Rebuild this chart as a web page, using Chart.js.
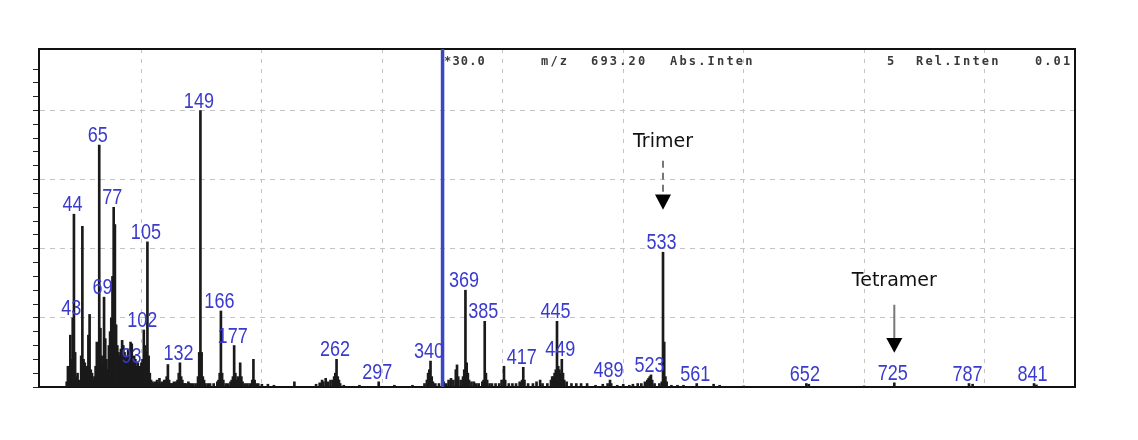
<!DOCTYPE html>
<html><head><meta charset="utf-8">
<script src="https://cdn.jsdelivr.net/npm/chart.js@4.4.1/dist/chart.umd.min.js"></script>
<style>html,body{margin:0;padding:0;background:#fff;}#wrap{width:1138px;height:440px;}</style>
</head><body><div id="wrap"><canvas id="c" width="1138" height="440"></canvas></div>
<script>
// ---- data ----
const mzValues = [38,39,40,41,42,43,44,45,46,47,48,50,51,52,53,54,55,56,57,58,59,60,61,62,63,64,65,66,67,68,69,70,71,72,73,74,75,76,77,78,79,80,81,82,83,84,85,86,87,88,89,90,91,92,93,94,95,96,97,98,99,100,101,102,103,104,105,106,107,108,109,110,111,112,113,114,115,116,117,118,119,120,121,122,123,124,125,126,127,128,129,130,131,132,133,134,135,136,137,139,140,141,143,145,147,148,149,150,151,152,153,155,157,160,163,164,165,166,167,168,170,172,174,175,176,177,178,179,180,181,182,183,184,186,188,190,192,193,194,195,197,200,205,210,227,245,248,250,251,253,255,257,259,260,261,262,263,264,265,268,281,297,310,325,335,337,338,339,340,341,342,344,347,351,353,355,357,359,361,362,363,365,367,368,369,370,371,372,374,376,378,380,383,384,385,386,387,389,391,394,397,399,401,402,405,408,411,414,416,417,418,421,425,428,431,433,437,440,441,442,443,444,445,446,447,448,449,450,451,453,457,461,465,470,477,483,487,489,490,495,500,505,508,512,515,518,520,521,522,523,524,526,530,532,533,534,535,536,540,545,550,561,575,580,600,652,654,700,725,787,790,841,843];
const intensities = [1.5,6,3,15,8,20,50,10,3,4,2,9,46.5,8,7,3,6,15,21,5,4,2,3,6,13,8,70,17,9,6,26,14,8,5,12,16,20,32,52,47,18,12,10,9,11,13.5,12,10,9,8,11,9,13,12.5,6,9,8,6,7,5,6,7,8,16.5,12,10,42,9,4,2,1.5,1,1.5,1,2,1,2.5,1,1.5,1,2,2,3,6.5,2,1,1,1,1.5,1,1.5,2,4,7,3,2,1,1,1,1.5,1,1,1,1,3,10,80,10,3,2,1,1,1,1,1.5,2,4,22,4,2,1,1,1.5,2,3,12,4,2,3,2,7,3,1.5,1,1,1,2,8,2,1,1,0.8,0.8,0.5,1.5,0.8,1.2,2,1.5,2.5,1.5,2,2,3,4,8,3,2,1,0.5,0.5,1.5,0.5,0.5,1,2,4,5,7.5,3,1.5,1,1,1.5,1,2,2.5,2,5,6.4,3,2,3,5,28,7,4,2,1.5,1.5,1,1,1.5,2,19,4,2,1,1,1,1,2,6,2,1,1,1,1.5,2,5.7,2,1,1,1.5,2,1,1,2,3,3,4,5,19,6,5,4,8,4,2,1.5,1,1,1,1,0.5,0.8,1,2,1,0.5,0.8,0.5,0.8,1,1,1.5,2,2.5,3,3.5,2,1,1,1.5,39,13,3,1.5,0.5,0.5,0.5,1,0.8,0.5,0.3,1,0.8,0.3,1.2,1,0.8,1,0.6];
const labeledPeaks = [43,44,65,69,77,93,102,105,132,149,166,177,262,297,340,369,385,417,445,449,489,523,533,561,652,725,787,841];
const cursorMz = 350;
const xRange = [15, 875];
const yRange = [0, 97.8];
const headerItems = [['*30.0',405,8.4],['m/z',502,9.4],['693.20',552,9.4],['Abs.Inten',631,9.4],['5',848,9.4],['Rel.Inten',877,9.4],['0.01',996,9.3]];
const arrowNotes = [
  {text:'Trimer', mz:533, textY:71, shaftTop:65.5, headTop:55.7, tip:51.3, dashed:true},
  {text:'Tetramer', mz:725, textY:30.7, shaftTop:23.8, headTop:14.2, tip:9.9, dashed:false}
];

const spectrum = mzValues.map((m,i)=>({x:m, y:intensities[i]}));
const valueAt = m => intensities[mzValues.indexOf(m)];

const peakLabelPlugin = {
  id:'peakLabels',
  afterDatasetsDraw(chart){
    const ctx = chart.ctx, xs = chart.scales.x, ys = chart.scales.y;
    ctx.save();
    ctx.font = '22px "Liberation Sans", Arial, sans-serif';
    ctx.fillStyle = '#3a3acd';
    ctx.textAlign = 'center';
    ctx.textBaseline = 'alphabetic';
    labeledPeaks.forEach(m=>{
      const px = xs.getPixelForValue(m) - 1.5;
      const py = ys.getPixelForValue(valueAt(m)) - 3;
      ctx.save();
      ctx.translate(px, py);
      ctx.scale(0.82, 1);
      ctx.fillText(String(m), 0, 0);
      ctx.restore();
    });
    arrowNotes.forEach(n=>{
      const px = xs.getPixelForValue(n.mz);
      ctx.font = '19px "DejaVu Sans", sans-serif';
      ctx.fillStyle = '#111';
      ctx.textBaseline = 'middle';
      ctx.fillText(n.text, px, ys.getPixelForValue(n.textY));
      ctx.strokeStyle = '#777';
      ctx.lineWidth = 2;
      ctx.setLineDash(n.dashed ? [7,5] : []);
      ctx.beginPath();
      ctx.moveTo(px, ys.getPixelForValue(n.shaftTop));
      ctx.lineTo(px, ys.getPixelForValue(n.headTop));
      ctx.stroke();
      ctx.setLineDash([]);
      const ht = ys.getPixelForValue(n.headTop), tp = ys.getPixelForValue(n.tip);
      ctx.fillStyle = '#000';
      ctx.beginPath();
      ctx.moveTo(px-8, ht); ctx.lineTo(px+8, ht); ctx.lineTo(px, tp); ctx.closePath();
      ctx.fill();
    });
    ctx.restore();
  }
};

const headerPlugin = {
  id:'header',
  afterDraw(chart){
    const ctx = chart.ctx, a = chart.chartArea;
    ctx.save();
    ctx.font = 'bold 12px "DejaVu Sans Mono", monospace';
    ctx.fillStyle = '#3a3a3a';
    ctx.textBaseline = 'alphabetic';
    headerItems.forEach(([t,dx,step])=>{
      for (let i=0;i<t.length;i++) ctx.fillText(t[i], a.left+dx+i*step, a.top+16);
    });
    ctx.restore();
  }
};

new Chart(document.getElementById('c'), {
  data:{
    datasets:[
      {type:'line', data:[{x:cursorMz,y:yRange[0]},{x:cursorMz,y:yRange[1]}], borderColor:'#3a46c4', borderWidth:3.5, pointRadius:0, order:0},
      {type:'bar', data:spectrum, backgroundColor:'#1a1a1a', borderWidth:0, barThickness:2, order:1}
    ]
  },
  options:{
    responsive:false, animation:false,
    layout:{padding:{left:33, right:63, top:49, bottom:53}},
    plugins:{legend:{display:false}, tooltip:{enabled:false}},
    scales:{
      x:{type:'linear', position:'bottom', min:xRange[0], max:xRange[1], offset:false,
         ticks:{display:false, stepSize:100},
         grid:{offset:false, drawTicks:false, color:c=> (c.tick && c.tick.value%100===0) ? '#c4c4c4' : 'rgba(0,0,0,0)', lineWidth:1},
         border:{display:true, color:'#111', width:2, dash:[4,6]}},
      x2:{type:'linear', position:'top', min:xRange[0], max:xRange[1], offset:false,
         ticks:{display:false}, grid:{display:false, drawTicks:false, offset:false},
         border:{display:true, color:'#111', width:2}},
      y:{type:'linear', position:'left', min:yRange[0], max:yRange[1],
         ticks:{display:false, stepSize:4},
         grid:{drawTicks:true, tickLength:6, tickWidth:1, tickBorderDash:[],
               tickColor:c=> (c.tick && Math.abs(c.tick.value%4)<0.01) ? '#222' : 'rgba(0,0,0,0)',
               color:c=> (c.tick && c.tick.value>0 && c.tick.value<97 && c.tick.value%20===0) ? '#c4c4c4' : 'rgba(0,0,0,0)'},
         border:{display:true, color:'#111', width:2, dash:[5,5]}},
      y2:{type:'linear', position:'right', min:yRange[0], max:yRange[1],
         ticks:{display:false}, grid:{display:false, drawTicks:false},
         border:{display:true, color:'#111', width:2}}
    }
  },
  plugins:[peakLabelPlugin, headerPlugin]
});
</script></body></html>
